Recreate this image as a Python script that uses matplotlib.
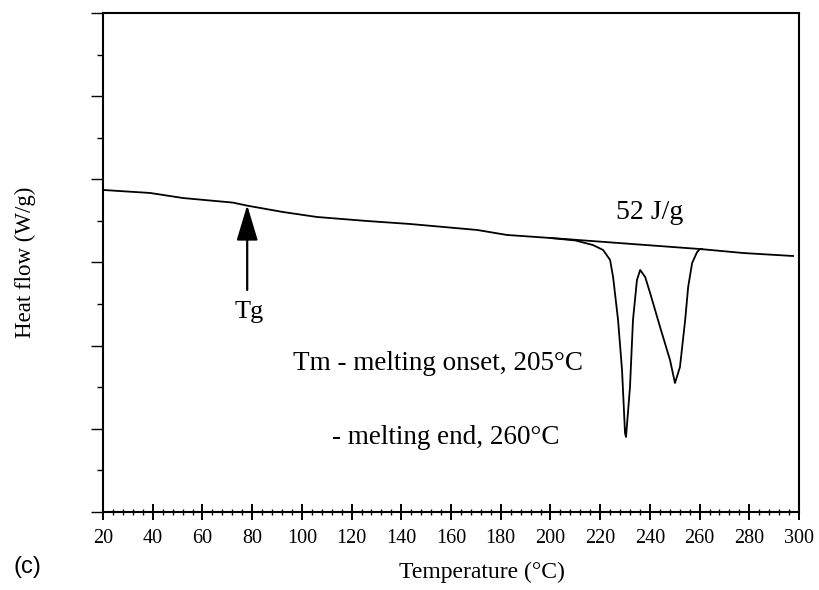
import numpy as np
import matplotlib.pyplot as plt
from matplotlib.ticker import MultipleLocator, NullFormatter

# DSC trace (temperature in C, heat flow in arbitrary units)
temp = [20.0, 38.9, 52.2, 72.3, 77.9, 92.4, 106.1, 126.2, 143.5, 170.5, 182.5,
        199.8, 210.0, 217.1, 221.2, 224.0, 225.2, 227.2, 228.8, 230.0, 230.4,
        232.0, 233.2, 234.8, 236.1, 238.1, 240.1, 244.1, 248.1, 250.1, 252.1,
        254.2, 255.4, 257.0, 259.0, 260.2, 277.5, 297.6]
heat = [3.872, 3.836, 3.775, 3.720, 3.684, 3.607, 3.547, 3.499, 3.463, 3.391, 3.331,
        3.295, 3.265, 3.210, 3.150, 3.030, 2.826, 2.308, 1.707, 0.950, 0.902,
        1.503, 2.308, 2.789, 2.910, 2.826, 2.633, 2.224, 1.828, 1.551, 1.743,
        2.308, 2.705, 2.994, 3.126, 3.162, 3.114, 3.078]

# integration baseline under the melting peaks
base_t = [200.0, 261.0]
base_h = [3.295, 3.160]

xticks = list(range(20, 301, 20))

serif = ['Liberation Serif', 'DejaVu Serif']

fig = plt.figure(figsize=(8.19, 5.90), dpi=100)
ax = fig.add_axes([0.1258, 0.1322, 0.8498, 0.8458])

ax.plot(temp, heat, color='black', lw=1.3)
ax.plot(base_t, base_h, color='black', lw=1.3)

ax.set_xlim(20, 300)
ax.set_ylim(0, 6)
ax.set_xticks(xticks)
ax.xaxis.set_minor_locator(MultipleLocator(4))
ax.yaxis.set_major_locator(MultipleLocator(1))
ax.yaxis.set_minor_locator(MultipleLocator(0.5))
ax.yaxis.set_major_formatter(NullFormatter())

ax.tick_params(axis='x', which='major', direction='inout', length=12, width=1.4,
               labelsize=14.5, pad=6)
ax.tick_params(axis='x', which='minor', direction='inout', length=4, width=1.0)
ax.tick_params(axis='y', which='major', direction='out', length=9, width=1.0)
ax.tick_params(axis='y', which='minor', direction='out', length=4, width=1.0)
for lab in ax.get_xticklabels():
    lab.set_family(serif)

for s in ax.spines.values():
    s.set_linewidth(1.5)

ax.set_xlabel('Temperature (°C)', family=serif, fontsize=17, labelpad=10, x=0.545)
ax.set_ylabel('Heat flow (W/g)', family=serif, fontsize=16.5, labelpad=36)

# Tg arrow
ax.annotate('', xy=(78, 3.69), xytext=(78, 2.67),
            arrowprops=dict(arrowstyle='-|>,head_width=0.3,head_length=1.0',
                            color='black', lw=1.6, mutation_scale=22,
                            shrinkA=0, shrinkB=0))
ax.text(79, 2.40, 'Tg', family=serif, fontsize=19, ha='center', va='center')
ax.text(240, 3.60, '52 J/g', family=serif, fontsize=20, ha='center', va='center')
ax.text(96.4, 1.78, 'Tm - melting onset, 205°C', family=serif, fontsize=19.5,
        ha='left', va='center')
ax.text(112.1, 0.89, '- melting end, 260°C', family=serif, fontsize=19.5,
        ha='left', va='center')

fig.text(0.016, 0.039, '(c)', family=['Liberation Sans', 'DejaVu Sans'],
         fontsize=17, ha='left', va='center')

fig.savefig('out.png', dpi=100)
